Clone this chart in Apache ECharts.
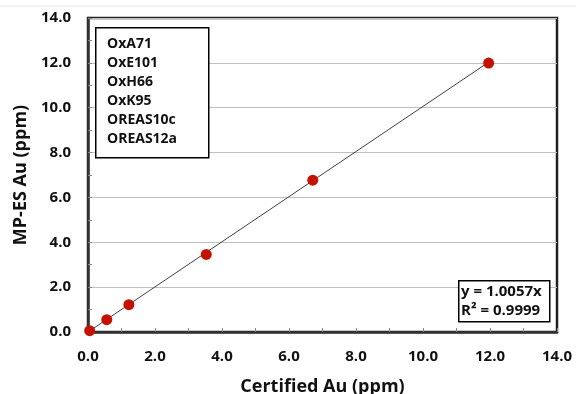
<!DOCTYPE html>
<html><head><meta charset="utf-8">
<script src="https://cdn.jsdelivr.net/npm/echarts@6/dist/echarts.min.js"></script>
<style>html,body{margin:0;padding:0;background:#fff}#c{width:576px;height:394px}</style>
</head><body><div id="c"></div>
<script>
var names = ['OxA71','OxE101','OxH66','OxK95','OREAS10c','OREAS12a'];
var certified = [0.05, 0.56, 1.22, 3.53, 6.71, 11.96];
var measured = [0.06, 0.55, 1.22, 3.46, 6.77, 11.99];
var trendX = [0, 11.96];
var trendY = [0, 12.03];
var ticks = [0, 2, 4, 6, 8, 10, 12, 14];
var eqLines = ['y = 1.0057x', 'R² = 0.9999'];

var FONT = '"Open Sans", "Liberation Sans", sans-serif';
var chart = echarts.init(document.getElementById('c'));
var series = names.map(function(n, i){
  return {name:n, type:'scatter', symbolSize:11, data:[[certified[i], measured[i]]],
    itemStyle:{color:'#C41200', opacity:1}, z:5};
});
series.unshift({name:'trend', type:'line', symbol:'none', silent:true,
  data:trendX.map(function(x,i){return [x, trendY[i]];}),
  lineStyle:{color:'#404040', width:1}, z:3});
function axisCommon(name){
  return {type:'value', min:ticks[0], max:ticks[ticks.length-1], interval:2,
    name:name, nameLocation:'middle',
    nameTextStyle:{fontFamily:FONT, fontWeight:'bold', fontSize:18, color:'#111'},
    axisLine:{show:true, onZero:false, lineStyle:{color:'#333', width:2.5}},
    axisTick:{show:true, inside:true, length:4, lineStyle:{color:'#888'}},
    minorTick:{show:true, splitNumber:2, length:4, lineStyle:{color:'#888'}},
    axisLabel:{fontFamily:FONT, fontWeight:'bold', fontSize:15, color:'#111',
      formatter:function(v){return v.toFixed(1);}}
  };
}
var xa = axisCommon('Certified Au (ppm)');
xa.nameGap = 46; xa.axisLabel.margin = 17; xa.splitLine = {show:false};
var ya = axisCommon('MP-ES Au (ppm)');
ya.nameGap = 52; ya.axisLabel.margin = 17;
ya.splitLine = {show:true, lineStyle:{color:'#bfbfbf', width:1.2}};
chart.setOption({
  animation:false,
  grid:{left:88, right:19, top:18, bottom:62, containLabel:false, outerBoundsMode:'none',
    show:true, borderColor:'#222', borderWidth:2.5, backgroundColor:'transparent'},
  xAxis:xa, yAxis:ya,
  legend:{data:names, orient:'vertical', left:107, top:37,
    padding:0, itemGap:5, itemWidth:0, itemHeight:14, icon:'none',
    textStyle:{fontFamily:FONT, fontWeight:'bold', fontSize:14, color:'#111', padding:[0,0,0,-5]},
    selectedMode:false, z:12},
  graphic:[
    {type:'line', shape:{x1:0, y1:6, x2:576, y2:6}, style:{stroke:'#e6e6e6', lineWidth:1}},
    {type:'rect', left:95, top:27, shape:{width:113, height:130},
      style:{fill:'#fff', stroke:'#000', lineWidth:1.5}, z:10},
    {type:'rect', left:458, top:280, shape:{width:91, height:41},
      style:{fill:'#fff', stroke:'#000', lineWidth:1.5}, z:10},
    {type:'text', left:461, top:282, z:11,
      style:{text:eqLines.join('\n'), fontFamily:FONT, fontWeight:'bold', fontSize:15, lineHeight:19, fill:'#111'}}],
  series:series
});
</script></body></html>
